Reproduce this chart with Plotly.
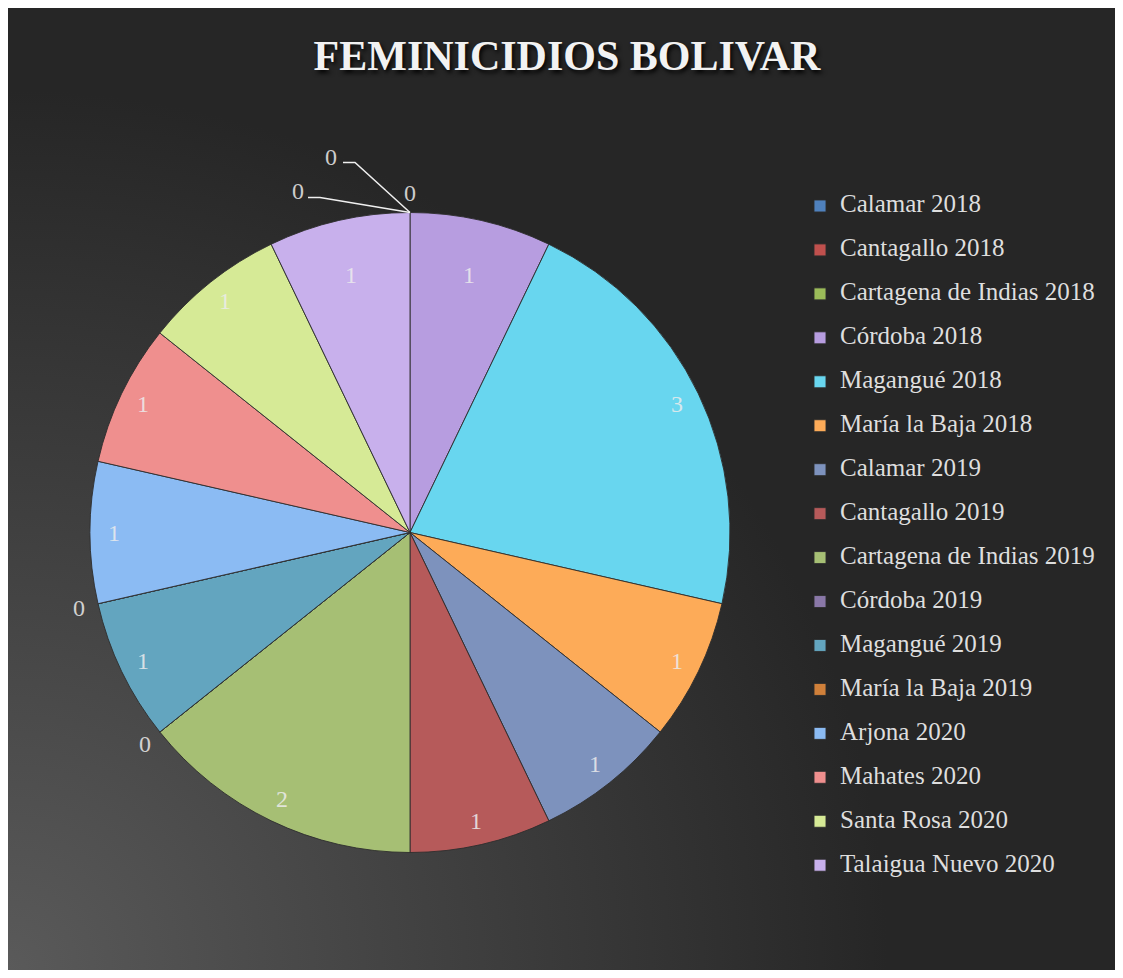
import math
import base64
import plotly.graph_objects as go

# ---------------- data ----------------
categories = [
    "Calamar 2018", "Cantagallo 2018", "Cartagena de Indias 2018", "Córdoba 2018",
    "Magangué 2018", "María la Baja 2018", "Calamar 2019", "Cantagallo 2019",
    "Cartagena de Indias 2019", "Córdoba 2019", "Magangué 2019", "María la Baja 2019",
    "Arjona 2020", "Mahates 2020", "Santa Rosa 2020", "Talaigua Nuevo 2020",
]
values = [0, 0, 0, 1, 3, 1, 1, 1, 2, 0, 1, 0, 1, 1, 1, 1]
title_text = "FEMINICIDIOS BOLIVAR"

# ---------------- styles ----------------
colors = [
    "#4f81bd", "#c0504d", "#9bbb59", "#b79de0",
    "#68d6ef", "#fdab58", "#7d92bd", "#b65a5a",
    "#a6bf74", "#8a78a8", "#63a5bf", "#d0803a",
    "#8bbbf3", "#ef8f8e", "#d6ea96", "#c8b0ec",
]
FONT = "Liberation Serif"
W, H = 1107, 962
CX, CY, R = 402, 524.5, 320      # pie centre / radius in figure pixels (y down)

def px_to_paper(px, py):
    return px / W, 1 - py / H

dom_x = [(CX - R) / W, (CX + R) / W]
dom_y = [1 - (CY + R) / H, 1 - (CY - R) / H]

legend_labels = [f"<span style='font-size:25px;baseline-shift:6px'>{c}</span>" for c in categories]

fig = go.Figure(go.Pie(
    labels=legend_labels,
    values=values,
    sort=False,
    direction="clockwise",
    rotation=0,
    textinfo="none",
    hovertemplate="%{label}: %{value}<extra></extra>",
    marker=dict(colors=colors, line=dict(color="rgba(45,45,45,0.9)", width=1)),
    domain=dict(x=dom_x, y=dom_y),
))

# ---------------- data labels (positions derived from the values) ----------------
annotations = []
shapes = []
total = sum(values)
cum = 0
seen_zero_angles = {}
label_color = "rgba(236,236,236,0.85)"
# label dx, dy, elbow dx, dy, line start dx, dy (px, relative to slice edge point)
callouts = [(-112, -22, -90, -15, -102, -15), (-79, -56, -55, -50, -67, -50)]
for cat, v in zip(categories, values):
    a0 = cum / total * 2 * math.pi
    cum += v
    a1 = cum / total * 2 * math.pi
    mid = (a0 + a1) / 2
    if v > 0:
        rf = 0.825 if math.cos(mid) > 0.9 else 0.925
        px = CX + rf * R * math.sin(mid)
        py = CY - rf * R * math.cos(mid)
    else:
        key = round(mid, 6)
        k = seen_zero_angles.get(key, 0)
        seen_zero_angles[key] = k + 1
        ex = CX + R * math.sin(mid)
        ey = CY - R * math.cos(mid)
        if k == 0:
            rf = 1.06
            px = CX + rf * R * math.sin(mid)
            py = CY - rf * R * math.cos(mid)
        else:
            lx, ly, e1x, e1y, e2x, e2y = callouts[(k - 1) % len(callouts)]
            px, py = ex + lx, ey + ly
            p_end = px_to_paper(ex, ey)
            p1 = px_to_paper(ex + e1x, ey + e1y)
            p2 = px_to_paper(ex + e2x, ey + e2y)
            shapes.append(dict(type="path", xref="paper", yref="paper",
                               path=f"M{p2[0]},{p2[1]} L{p1[0]},{p1[1]} L{p_end[0]},{p_end[1]}",
                               line=dict(color="#f0f0f0", width=1.5)))
    x, y = px_to_paper(px, py)
    annotations.append(dict(x=x, y=y, xref="paper", yref="paper", text=str(v),
                            showarrow=False, xanchor="center", yanchor="middle",
                            font=dict(family=FONT, size=24, color=label_color)))

# ---------------- background gradient ----------------
svg = (
    f'<svg xmlns="http://www.w3.org/2000/svg" width="{W}" height="{H}">'
    f'<defs><radialGradient id="g" gradientUnits="userSpaceOnUse" cx="0" cy="{H}" r="880">'
    f'<stop offset="0" stop-color="#5a5a5a"/><stop offset="1" stop-color="#262626"/>'
    f'</radialGradient></defs><rect width="{W}" height="{H}" fill="url(#g)"/></svg>'
)
bg_src = "data:image/svg+xml;base64," + base64.b64encode(svg.encode()).decode()

fig.update_layout(
    width=W, height=H,
    margin=dict(l=0, r=0, t=0, b=0),
    paper_bgcolor="#262626",
    plot_bgcolor="#262626",
    images=[dict(source=bg_src, xref="paper", yref="paper", x=0, y=1, sizex=1, sizey=1,
                 xanchor="left", yanchor="top", sizing="stretch", layer="below")],
    title=dict(text=title_text, x=559 / W, xanchor="center", y=1 - 47 / H, yanchor="middle",
               yref="container", xref="container",
               font=dict(family=FONT, size=42, color="#f2f2f2", weight="bold",
                         shadow="2px 3px 4px rgba(0,0,0,0.9)")),
    showlegend=True,
    legend=dict(x=792 / W, xanchor="left", y=1 - 171 / H, yanchor="top",
                font=dict(family=FONT, size=31.5, color="#dedede"),
                bgcolor="rgba(0,0,0,0)", borderwidth=0, itemwidth=30),
    annotations=annotations,
    shapes=shapes,
)

fig.write_html("out.html")
